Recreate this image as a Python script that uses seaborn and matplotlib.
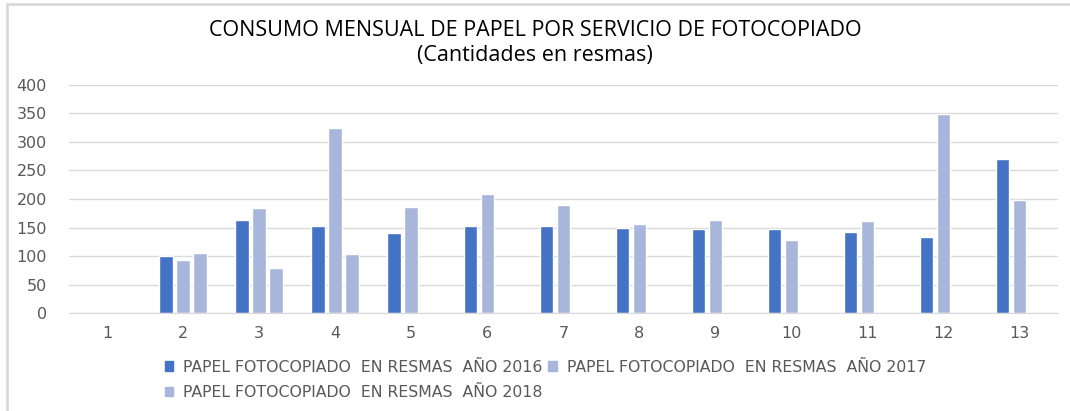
import numpy as np
import pandas as pd
import matplotlib.pyplot as plt
import seaborn as sns
from matplotlib.lines import Line2D

# data
meses = ["1", "2", "3", "4", "5", "6", "7", "8", "9", "10", "11", "12", "13"]
resmas_2016 = [np.nan, 101, 163, 153, 141, 152, 152, 150, 147, 147, 143, 134, 270]
resmas_2017 = [np.nan, 94, 185, 324, 186, 209, 189, 156, 164, 128, 161, 349, 199]
resmas_2018 = [np.nan, 105, 80, 104, np.nan, np.nan, np.nan, np.nan, np.nan, np.nan, np.nan, np.nan, np.nan]

series = [
    "PAPEL FOTOCOPIADO  EN RESMAS  AÑO 2016",
    "PAPEL FOTOCOPIADO  EN RESMAS  AÑO 2017",
    "PAPEL FOTOCOPIADO  EN RESMAS  AÑO 2018",
]
colores = ["#4472C4", "#A9B6DC", "#A9B6DC"]

df = pd.DataFrame({"mes": meses * 3,
                   "serie": np.repeat(series, len(meses)),
                   "valor": resmas_2016 + resmas_2017 + resmas_2018})
df = df.dropna()

sns.set_style("white")
plt.rcParams['font.family'] = ['DejaVu Sans']

fig = plt.figure(figsize=(10.70, 4.11), dpi=100)
ax = fig.add_axes([0.0645, 0.2377, 0.924, 0.556])

sns.barplot(data=df, x="mes", y="valor", hue="serie", order=meses,
            hue_order=series, palette=colores, width=0.67, gap=0.2,
            saturation=1, errorbar=None, ax=ax, legend=False)

ax.set_ylim(0, 400)
ax.set_xlim(-0.5, 12.5)
ax.set_yticks(range(0, 401, 50))
ax.yaxis.grid(True, color="#D9D9D9", linewidth=1)
ax.set_axisbelow(True)
ax.set_xlabel("")
ax.set_ylabel("")
for s in ["top", "right", "left"]:
    ax.spines[s].set_visible(False)
ax.spines["bottom"].set_color("#D9D9D9")
ax.tick_params(axis="both", length=0, labelsize=11.5, labelcolor="#595959")
ax.tick_params(axis="y", pad=16)
ax.tick_params(axis="x", pad=9)

fig.text(0.5, (411 - 31) / 411, "CONSUMO MENSUAL DE PAPEL POR SERVICIO DE FOTOCOPIADO",
         ha="center", va="center", fontsize=15.5, color="#000000", family="Open Sans")
fig.text(0.5, (411 - 55) / 411, "(Cantidades en resmas)",
         ha="center", va="center", fontsize=15.5, color="#000000", family="Open Sans")

# ncol=2 fills by column, so reorder to get 2016, 2017 on the first row
orden = [0, 2, 1]
handles = [plt.Rectangle((0, 0), 1, 1, color=colores[i]) for i in orden]
fig.legend(handles, [series[i] for i in orden], ncol=2, loc="upper left",
           bbox_to_anchor=(0.148, 0.14), frameon=False, fontsize=11.3,
           labelcolor="#595959", handlelength=0.55, handleheight=0.55,
           handletextpad=0.6, columnspacing=0.4, labelspacing=0.65,
           borderaxespad=0)

# chart border, only left and top edges are visible in the reference
x0 = 7 / 1070
y0 = (411 - 4) / 411
fig.add_artist(Line2D([x0, x0], [0, y0], transform=fig.transFigure,
                      color="#D9D9D9", linewidth=2))
fig.add_artist(Line2D([x0, 1], [y0, y0], transform=fig.transFigure,
                      color="#D9D9D9", linewidth=2))

fig.savefig("out.png", dpi=100)
